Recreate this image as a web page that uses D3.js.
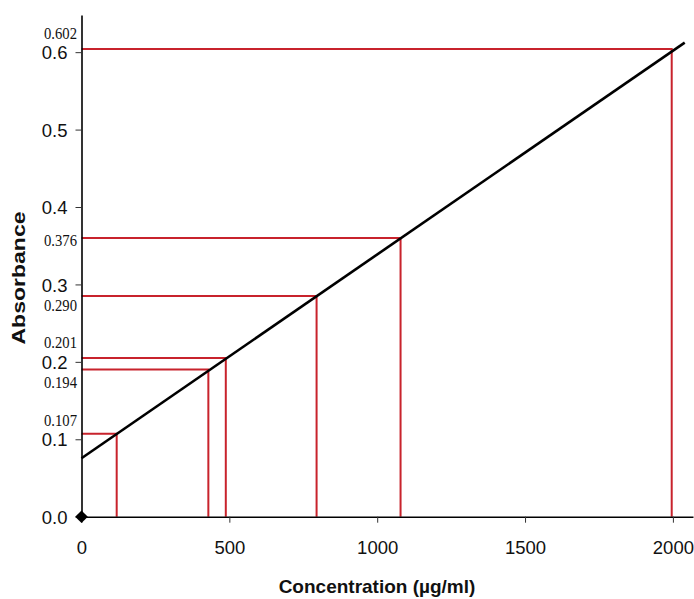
<!DOCTYPE html>
<html>
<head>
<meta charset="utf-8">
<script src="https://cdn.jsdelivr.net/npm/d3@7"></script>
<style>
  html, body { margin: 0; padding: 0; background: #fff; }
  svg { display: block; }
</style>
</head>
<body>
<svg id="chart" width="694" height="599"></svg>
<script>
// ---- data ----
const concentrations = [119, 429, 488, 795, 1079, 1996];
const absorbances = [0.107, 0.190, 0.205, 0.285, 0.360, 0.604];
const absorbanceLabels = ["0.107", "0.194", "0.201", "0.290", "0.376", "0.602"];
const fitX = [0, 2040];
const fitY = [0.0755, 0.6124];
const xTicks = [0, 500, 1000, 1500, 2000];
const yTicks = [0, 0.1, 0.2, 0.3, 0.4, 0.5, 0.6];
const xTitle = "Concentration (µg/ml)";
const yTitle = "Absorbance";

// ---- layout ----
const W = 694, H = 599;
const margin = { left: 81.5, top: 15, right: 1, bottom: 82.3 };
const svg = d3.select("#chart");

const x = d3.scaleLinear().domain([0, 2068]).range([margin.left, W - margin.right]);
const y = d3.scaleLinear().domain([0, 0.648]).range([H - margin.bottom, margin.top]);

const red = "#c8232c";

// red guide lines
const pts = concentrations.map((c, i) => ({ c, a: absorbances[i], label: absorbanceLabels[i] }));
svg.append("g").selectAll("path").data(pts).enter().append("path")
  .attr("d", d => `M${x(0)},${y(d.a)}H${x(d.c)}V${y(0)}`)
  .attr("fill", "none").attr("stroke", red).attr("stroke-width", 2);

// fit line
svg.append("path")
  .datum(fitX.map((v, i) => [v, fitY[i]]))
  .attr("d", d3.line().x(d => x(d[0])).y(d => y(d[1])))
  .attr("fill", "none").attr("stroke", "#000").attr("stroke-width", 2.6);

// axes
const xAxis = svg.append("g")
  .attr("transform", `translate(0,${y(0)})`)
  .call(d3.axisBottom(x).tickValues(xTicks).tickFormat(d3.format("d")).tickSize(6).tickSizeOuter(0).tickPadding(18));
const yAxis = svg.append("g")
  .attr("transform", `translate(${x(0)},0)`)
  .call(d3.axisLeft(y).tickValues(yTicks).tickFormat(d3.format(".1f")).tickSize(6).tickSizeOuter(0).tickPadding(8));

[xAxis, yAxis].forEach(g => {
  g.select(".domain").attr("stroke", "#000").attr("stroke-width", 1.6);
  g.selectAll(".tick line").attr("stroke", "#333").attr("stroke-width", 1);
  g.selectAll(".tick text")
    .attr("font-family", "Liberation Sans, Arial, sans-serif")
    .attr("font-size", 18.5).attr("fill", "#111");
});
yAxis.selectAll(".tick text").attr("dy", "0.36em");

// value labels (serif, condensed)
const labelOffsets = [-8, 18, -10, 15, 8, -10];
svg.append("g").selectAll("text").data(pts).enter().append("text")
  .attr("x", 44)
  .attr("y", (d, i) => y(d.a) + labelOffsets[i])
  .attr("font-family", "Liberation Serif, Times New Roman, serif")
  .attr("font-size", 17)
  .attr("textLength", 33)
  .attr("lengthAdjust", "spacingAndGlyphs")
  .attr("fill", "#111")
  .text(d => d.label);

// origin diamond
svg.append("path")
  .attr("d", d3.symbol().type(d3.symbolSquare).size(80)())
  .attr("transform", `translate(${x(0)},${y(0)}) rotate(45)`)
  .attr("fill", "#000");

// titles
svg.append("text")
  .attr("x", 377).attr("y", 593)
  .attr("text-anchor", "middle")
  .attr("font-family", "Liberation Sans, Arial, sans-serif")
  .attr("font-weight", "bold").attr("font-size", 19)
  .attr("fill", "#111")
  .text(xTitle);

svg.append("text")
  .attr("transform", `translate(25,278) rotate(-90)`)
  .attr("text-anchor", "middle")
  .attr("font-family", "Liberation Sans, Arial, sans-serif")
  .attr("font-weight", "bold").attr("font-size", 19)
  .attr("textLength", 133)
  .attr("lengthAdjust", "spacingAndGlyphs")
  .attr("fill", "#111")
  .text(yTitle);
</script>
</body>
</html>
